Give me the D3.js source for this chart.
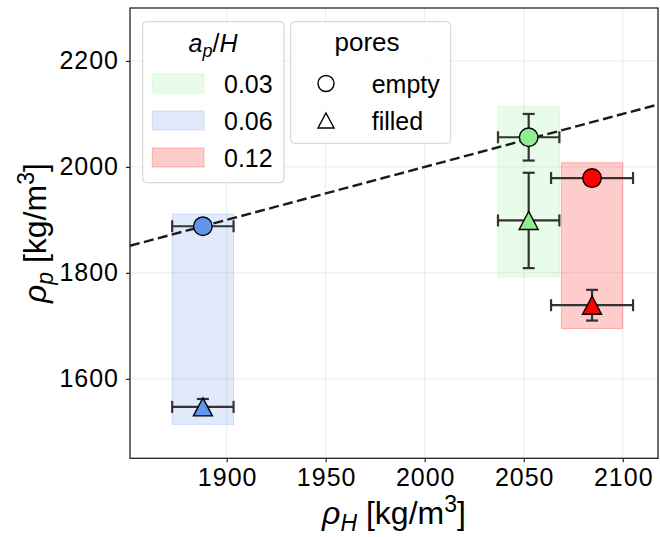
<!DOCTYPE html>
<html>
<head>
<meta charset="utf-8">
<script src="https://d3js.org/d3.v7.min.js"></script>
<style>
    body { margin: 0; background: #fff; }
    text { font-family: "Liberation Sans", Arial, sans-serif; fill: #000; }
    .grid line { stroke: #ebebeb; stroke-width: 1; }
</style>
</head>
<body>
<script>
// values
var ratios = ["0.03", "0.06", "0.12"];
var colors = ["#90ee90", "#6495ed", "#ff0000"];
var rhoH = [2052.5, 1888, 2084.5];
var rhoHErr = [15.5, 15.5, 20.7];
var rhoEmpty = [2056, 1888, 1979];
var rhoEmptyErr = [44, 8, 8];
var rhoFilled = [1899, 1547, 1739];
var rhoFilledErr = [90, 15, 29];
var boxHalfWidth = [15.5, 15.5, 15.5];
var boxLow = [1792, 1514, 1695];
var boxHigh = [2114, 1911, 2008];
var poreLabels = ["empty", "filled"];
var xTicks = [1900, 1950, 2000, 2050, 2100];
var yTicks = [1600, 1800, 2000, 2200];
var xDomain = [1851.2, 2117.8],
    yDomain = [1450, 2300];

var W = 660, H = 537;
var pLeft = 130, pRight = 658, pTop = 8, pBottom = 458.3;

var x = d3.scaleLinear().domain(xDomain).range([pLeft, pRight]);
var y = d3.scaleLinear().domain(yDomain).range([pBottom, pTop]);

var svg = d3.select("body").append("svg")
    .attr("width", W)
    .attr("height", H);

// grid
svg.append("g").attr("class", "grid")
    .selectAll("line").data(xTicks).enter().append("line")
    .attr("x1", function(d) { return x(d); }).attr("x2", function(d) { return x(d); })
    .attr("y1", pTop).attr("y2", pBottom);
svg.append("g").attr("class", "grid")
    .selectAll("line").data(yTicks).enter().append("line")
    .attr("y1", function(d) { return y(d); }).attr("y2", function(d) { return y(d); })
    .attr("x1", pLeft).attr("x2", pRight);

var plot = svg.append("g");

// shaded boxes
plot.selectAll("rect.box").data(ratios).enter().append("rect")
    .attr("class", "box")
    .attr("x", function(d, i) { return x(rhoH[i] - boxHalfWidth[i]); })
    .attr("width", function(d, i) { return x(rhoH[i] + boxHalfWidth[i]) - x(rhoH[i] - boxHalfWidth[i]); })
    .attr("y", function(d, i) { return y(boxHigh[i]); })
    .attr("height", function(d, i) { return y(boxLow[i]) - y(boxHigh[i]); })
    .attr("fill", function(d, i) { return colors[i]; })
    .attr("fill-opacity", 0.2)
    .attr("stroke", function(d, i) { return colors[i]; })
    .attr("stroke-opacity", 0.25);

// y = x reference line
plot.append("line")
    .attr("x1", x(xDomain[0])).attr("y1", y(xDomain[0]))
    .attr("x2", x(xDomain[1])).attr("y2", y(xDomain[1]))
    .attr("stroke", "#1a1a1a")
    .attr("stroke-width", 2.4)
    .attr("stroke-dasharray", "10,4.4");

// error bars
var cap = 6;
function errorBar(g, cx, cy, ex, ey) {
    var e = g.append("g").attr("stroke", "#333").attr("stroke-width", 2.2).attr("fill", "none");
    e.append("line").attr("x1", x(cx - ex)).attr("x2", x(cx + ex)).attr("y1", y(cy)).attr("y2", y(cy));
    e.append("line").attr("x1", x(cx)).attr("x2", x(cx)).attr("y1", y(cy - ey)).attr("y2", y(cy + ey));
    [cx - ex, cx + ex].forEach(function(v) {
        e.append("line").attr("x1", x(v)).attr("x2", x(v)).attr("y1", y(cy) - cap).attr("y2", y(cy) + cap);
    });
    [cy - ey, cy + ey].forEach(function(v) {
        e.append("line").attr("y1", y(v)).attr("y2", y(v)).attr("x1", x(cx) - cap).attr("x2", x(cx) + cap);
    });
}
ratios.forEach(function(r, i) {
    errorBar(plot, rhoH[i], rhoEmpty[i], rhoHErr[i], rhoEmptyErr[i]);
    errorBar(plot, rhoH[i], rhoFilled[i], rhoHErr[i], rhoFilledErr[i]);
});

var triPath = "M0,-9L9.5,9L-9.5,9Z";
var triSmall = "M0,-7.5L8,7.5L-8,7.5Z";

plot.selectAll("circle.empty").data(ratios).enter().append("circle")
    .attr("cx", function(d, i) { return x(rhoH[i]); })
    .attr("cy", function(d, i) { return y(rhoEmpty[i]); })
    .attr("r", 9.3)
    .attr("fill", function(d, i) { return colors[i]; })
    .attr("stroke", "#000").attr("stroke-width", 1.4);

plot.selectAll("path.filled").data(ratios).enter().append("path")
    .attr("d", triPath)
    .attr("transform", function(d, i) { return "translate(" + x(rhoH[i]) + "," + y(rhoFilled[i]) + ")"; })
    .attr("fill", function(d, i) { return colors[i]; })
    .attr("stroke", "#000").attr("stroke-width", 1.4).attr("stroke-linejoin", "miter");

// frame
svg.append("rect")
    .attr("x", pLeft).attr("y", pTop)
    .attr("width", pRight - pLeft).attr("height", pBottom - pTop)
    .attr("fill", "none").attr("stroke", "#222").attr("stroke-width", 1.3);

// axes
var xAxis = svg.append("g")
    .attr("transform", "translate(0," + pBottom + ")")
    .call(d3.axisBottom(x).tickValues(xTicks).tickSize(4).tickPadding(6).tickFormat(d3.format("d")));
var yAxis = svg.append("g")
    .attr("transform", "translate(" + pLeft + ",0)")
    .call(d3.axisLeft(y).tickValues(yTicks).tickSize(4).tickPadding(7).tickFormat(d3.format("d")));
[xAxis, yAxis].forEach(function(a) {
    a.select(".domain").remove();
    a.selectAll(".tick line").attr("stroke", "#222").attr("stroke-width", 1.2);
    a.selectAll(".tick text").attr("fill", "#000")
        .style("font-size", "25px").style("letter-spacing", "1px")
        .style("font-family", "'Liberation Sans', Arial, sans-serif");
});
xAxis.selectAll(".tick text").attr("dx", "0.5px");

// axis labels
var xl = svg.append("text")
    .attr("x", (pLeft + pRight) / 2).attr("y", 524)
    .attr("text-anchor", "middle").style("font-size", "32px");
xl.append("tspan").style("font-style", "italic").text("ρ");
xl.append("tspan").attr("dy", 7).style("font-style", "italic").style("font-size", "23px").text("H");
xl.append("tspan").attr("dy", -7).text(" [kg/m");
xl.append("tspan").attr("dy", -12).style("font-size", "23px").text("3");
xl.append("tspan").attr("dy", 12).text("]");

var yl = svg.append("text")
    .attr("transform", "translate(46," + (pTop + pBottom) / 2 + ") rotate(-90)")
    .attr("text-anchor", "middle").style("font-size", "32px");
yl.append("tspan").style("font-style", "italic").text("ρ");
yl.append("tspan").attr("dy", 7).style("font-style", "italic").style("font-size", "23px").text("p");
yl.append("tspan").attr("dy", -7).text(" [kg/m");
yl.append("tspan").attr("dy", -12).style("font-size", "23px").text("3");
yl.append("tspan").attr("dy", 12).text("]");

// legend: a_p/H
var lg1 = svg.append("g");
lg1.append("rect")
    .attr("x", 142.7).attr("y", 21.7).attr("width", 141.3).attr("height", 161)
    .attr("rx", 4).attr("fill", "#fff").attr("fill-opacity", 0.8)
    .attr("stroke", "#d0d0d0").attr("stroke-width", 1);
var t1 = lg1.append("text").attr("x", 213).attr("y", 52)
    .attr("text-anchor", "middle").style("font-size", "25px");
t1.append("tspan").style("font-style", "italic").text("a");
t1.append("tspan").attr("dy", 5).style("font-style", "italic").style("font-size", "18px").text("p");
t1.append("tspan").attr("dy", -5).text("/");
t1.append("tspan").style("font-style", "italic").text("H");

ratios.forEach(function(r, i) {
    var cy = 83.5 + i * 37;
    lg1.append("rect")
        .attr("x", 152.3).attr("y", cy - 9.5).attr("width", 51.7).attr("height", 19)
        .attr("fill", colors[i]).attr("fill-opacity", 0.2)
        .attr("stroke", colors[i]).attr("stroke-opacity", 0.25);
    lg1.append("text").attr("x", 224).attr("y", cy + 9)
        .style("font-size", "25px").text(r);
});

// legend: pores
var lg2 = svg.append("g");
lg2.append("rect")
    .attr("x", 290.7).attr("y", 21.7).attr("width", 160).attr("height", 121.6)
    .attr("rx", 4).attr("fill", "#fff").attr("fill-opacity", 0.8)
    .attr("stroke", "#d0d0d0").attr("stroke-width", 1);
lg2.append("text").attr("x", 367).attr("y", 51)
    .attr("text-anchor", "middle").style("font-size", "26px").text("pores");
poreLabels.forEach(function(p, i) {
    var cy = 83.5 + i * 37;
    if (i === 0) {
        lg2.append("circle").attr("cx", 326).attr("cy", cy).attr("r", 8)
            .attr("fill", "#fff").attr("stroke", "#000").attr("stroke-width", 1.4);
    } else {
        lg2.append("path").attr("d", triSmall)
            .attr("transform", "translate(326," + cy + ")")
            .attr("fill", "#fff").attr("stroke", "#000").attr("stroke-width", 1.4);
    }
    lg2.append("text").attr("x", 371.7).attr("y", cy + 9)
        .style("font-size", "25px").text(p);
});
</script>
</body>
</html>
